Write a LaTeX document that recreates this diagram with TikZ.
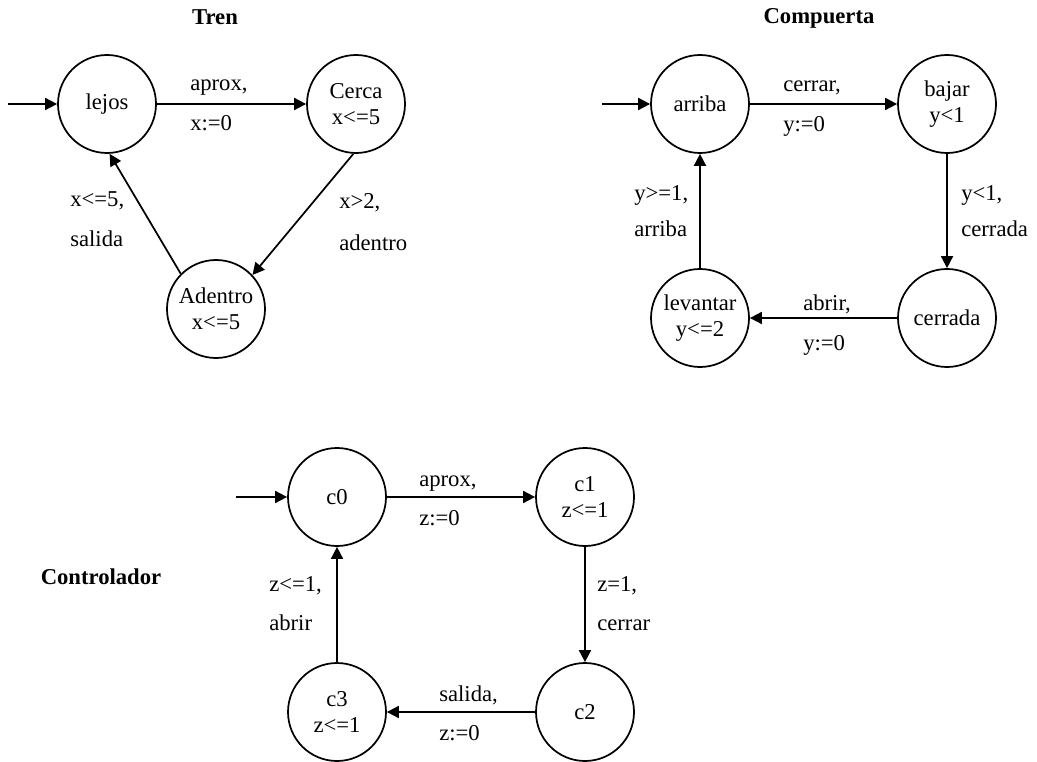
\documentclass[tikz,border=0pt]{standalone}
\usepackage{fontspec}
\setmainfont{Liberation Serif}
\usetikzlibrary{arrows.meta}
\begin{document}
\begin{tikzpicture}[x=0.75pt,y=-0.75pt,
  txt/.style={font=\fontsize{17}{19.5}\selectfont},
  state/.style={circle,draw,line width=1.3pt,minimum size=73.5pt,inner sep=0pt,align=center,txt},
  lbl/.style={anchor=west,inner sep=0pt,text height=0.68em,text depth=0.2em,txt},
  ttl/.style={inner sep=0pt,font=\fontsize{17}{19.5}\selectfont\bfseries},
  edge/.style={line width=1.3pt,-{Triangle[length=9pt,width=9pt]}},
]
\useasboundingbox (0,0) rectangle (1037,762);

% ---------------- Tren ----------------
\node[ttl] (tTren) at (215,17) {Tren};
\node[state] (lejos)   at (107,104) {lejos};
\node[state] (cerca)   at (356,104) {Cerca\\x<=5};
\node[state] (adentro) at (216,309) {Adentro\\x<=5};
\coordinate (tInit) at (8,104);
\draw[edge] (tInit) -- (lejos);
\draw[edge] (lejos) -- (cerca);
\draw[edge] (cerca.267) -- (adentro.43);
\draw[edge] (adentro.135) -- (lejos.273);
\node[lbl] (l1a) at (190,87)  {aprox,};
\node[lbl] (l1b) at (190,127) {x:=0};
\node[lbl] (l2a) at (339,205) {x>2,};
\node[lbl] (l2b) at (339,247) {adentro};
\node[lbl] (l3a) at (70,203)  {x<=5,};
\node[lbl] (l3b) at (70,243)  {salida};

% ---------------- Compuerta ----------------
\node[ttl] (tComp) at (819,18) {Compuerta};
\node[state] (arriba)   at (700,104) {arriba};
\node[state] (bajar)    at (947,104) {bajar\\y<1};
\node[state] (cerrada)  at (947,318) {cerrada};
\node[state] (levantar) at (700,318) {levantar\\y<=2};
\coordinate (cInit) at (602,104);
\draw[edge] (cInit) -- (arriba);
\draw[edge] (arriba) -- (bajar);
\draw[edge] (bajar) -- (cerrada);
\draw[edge] (cerrada) -- (levantar);
\draw[edge] (levantar) -- (arriba);
\node[lbl] (m1a) at (783,88)  {cerrar,};
\node[lbl] (m1b) at (783,128) {y:=0};
\node[lbl] (m2a) at (961,197) {y<1,};
\node[lbl] (m2b) at (961,233) {cerrada};
\node[lbl] (m3a) at (803,307) {abrir,};
\node[lbl] (m3b) at (803,347) {y:=0};
\node[lbl] (m4a) at (634,197) {y>=1,};
\node[lbl] (m4b) at (634,233) {arriba};

% ---------------- Controlador ----------------
\node[ttl] (tCtrl) at (101,577) {Controlador};
\node[state] (c0) at (337,497) {c0};
\node[state] (c1) at (585,497) {c1\\z<=1};
\node[state] (c2) at (585,712) {c2};
\node[state] (c3) at (337,712) {c3\\z<=1};
\coordinate (kInit) at (236,497);
\draw[edge] (kInit) -- (c0);
\draw[edge] (c0) -- (c1);
\draw[edge] (c1) -- (c2);
\draw[edge] (c2) -- (c3);
\draw[edge] (c3) -- (c0);
\node[lbl] (n1a) at (419,483) {aprox,};
\node[lbl] (n1b) at (419,522) {z:=0};
\node[lbl] (n2a) at (597,588) {z=1,};
\node[lbl] (n2b) at (597,627) {cerrar};
\node[lbl] (n3a) at (439,698) {salida,};
\node[lbl] (n3b) at (439,737) {z:=0};
\node[lbl] (n4a) at (269,588) {z<=1,};
\node[lbl] (n4b) at (269,627) {abrir};
\end{tikzpicture}
\end{document}
